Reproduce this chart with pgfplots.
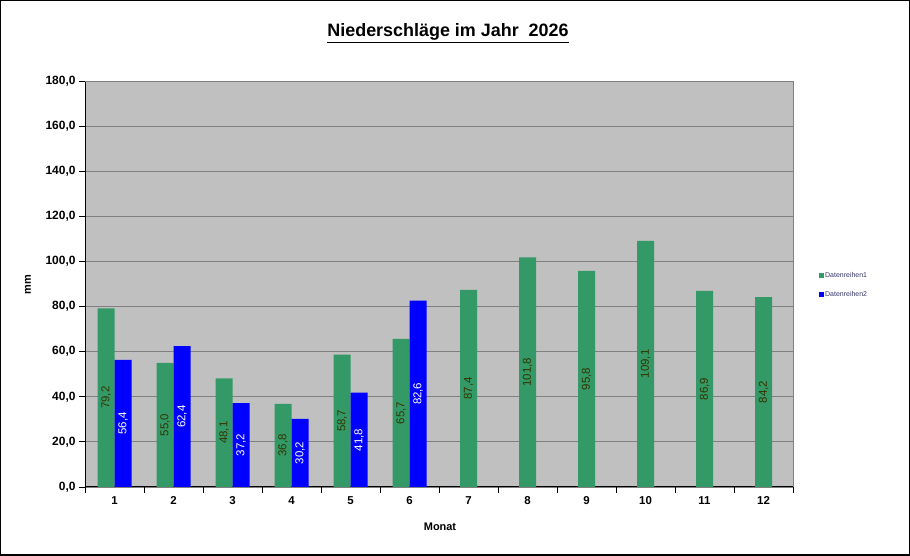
\documentclass[border=0pt]{standalone}
\usepackage{pgfplots}
\pgfplotsset{compat=1.18}
\usepackage{fontspec}
\setmainfont{Liberation Sans}
\definecolor{grn}{HTML}{339966}
\definecolor{blu}{HTML}{0000FF}
\definecolor{lbl}{HTML}{333300}
\definecolor{bg}{HTML}{C0C0C0}
\definecolor{gr}{HTML}{808080}
\definecolor{legtxt}{HTML}{333366}
\pgfplotsset{ybar legend/.style={/pgfplots/legend image code/.code={\fill[##1,draw=none] (0bp,-2.5bp) rectangle (5bp,2.5bp);}}}
\pgfplotsset{barlbl/.style n args={2}{every node near coord/.style={xshift=#1, yshift={-1.12778bp*\rawy}, rotate=90, anchor=center, font=\fontsize{11.5}{13}\selectfont, inner sep=0pt, text=#2}}}
\begin{document}
\begin{tikzpicture}[x=1bp,y=1bp]
\useasboundingbox (0,0) rectangle (910,556);
\fill[white] (0,0) rectangle (910,556);
\draw[black, line width=1.5bp] (0.75,0.75) rectangle (909.25,555.25);
\node[font=\bfseries\fontsize{18}{20}\selectfont] at (448,523) {\underline{Niederschläge im Jahr\ \ 2026}};
\node[font=\bfseries\fontsize{11}{13}\selectfont, rotate=90] at (28,271) {mm};
\node[font=\bfseries\fontsize{11}{13}\selectfont] at (440,29) {Monat};
\begin{axis}[
  at={(85bp,69bp)}, anchor=south west,
  scale only axis, width=708bp, height=406bp,
  xmin=0.5, xmax=12.5, ymin=0, ymax=180,
  ytick={0,20,...,180},
  xtick={1,...,12},
  minor xtick={0.5,1.5,...,12.5},
  major x tick style={draw=none},
  minor x tick style={black, line width=0.8bp},
  y tick style={black, line width=0.8bp},
  minor tick length=6bp, major tick length=6bp,
  tick align=outside,
  axis x line*=bottom, axis y line*=left,
  axis line style={black, line width=1bp, -},
  ymajorgrids, grid style={gr, line width=0.9bp},
  axis background/.style={fill=bg},
  /pgf/number format/assume math mode=true,
  yticklabel style={font=\bfseries\fontsize{12}{14}\selectfont, /pgf/number format/.cd, fixed, fixed zerofill, precision=1, use comma},
  xticklabel style={font=\bfseries\fontsize{11.5}{13}\selectfont},
  ybar, bar width=17bp,
  visualization depends on={rawy \as \rawy},
  nodes near coords={\pgfmathprintnumber[fixed,fixed zerofill,precision=1,use comma,assume math mode=true]{\pgfplotspointmeta}},
  legend style={at={(rel axis cs:1.036,0.497)}, anchor=west, draw=none, fill=none, font=\fontsize{7}{8}\selectfont, text=legtxt, row sep=9bp, inner sep=0pt, nodes={inner sep=1.5bp}},
  clip=false,
]
\addplot[fill=grn, draw=none, bar shift=-8.5bp, barlbl={-8.5bp}{lbl}] coordinates {(1,79.2) (2,55.0) (3,48.1) (4,36.8) (5,58.7) (6,65.7)};
\addlegendentry{Datenreihen1}
\addplot[fill=blu, draw=none, bar shift=8.5bp, barlbl={8.5bp}{white}] coordinates {(1,56.4) (2,62.4) (3,37.2) (4,30.2) (5,41.8) (6,82.6)};
\addlegendentry{Datenreihen2}
\addplot[fill=grn, draw=none, bar shift=0bp, forget plot, barlbl={0bp}{lbl}] coordinates {(7,87.4) (8,101.8) (9,95.8) (10,109.1) (11,86.9) (12,84.2)};
\draw[gr, line width=0.9bp] (rel axis cs:0,1) -- (rel axis cs:1,1) -- (rel axis cs:1,0);
\end{axis}
\end{tikzpicture}
\end{document}
